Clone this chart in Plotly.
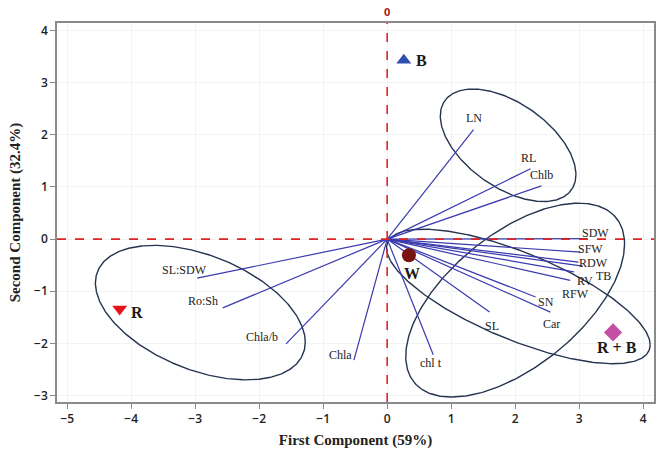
import numpy as np
import plotly.graph_objects as go

# --- PCA biplot data -------------------------------------------------------
# Variable loadings (end points of the vectors drawn from the origin)
var_names = ["LN", "RL", "Chlb", "SDW", "SFW", "RDW", "TB", "RV", "RFW",
             "SN", "Car", "SL", "chl t", "SL:SDW", "Ro:Sh", "Chla/b", "Chla"]
var_pc1 = [1.35, 2.24, 2.41, 3.12, 3.02, 2.99, 3.06, 2.92, 2.86,
           2.32, 2.55, 1.60, 0.72, -2.97, -2.57, -1.58, -0.52]
var_pc2 = [2.10, 1.35, 1.02, 0.01, -0.25, -0.44, -0.52, -0.63, -0.79,
           -1.11, -1.40, -1.40, -2.22, -0.75, -1.32, -2.01, -2.32]

# Treatment scores
trt_names = ["B", "W", "R", "R + B"]
trt_pc1 = [0.26, 0.34, -4.18, 3.53]
trt_pc2 = [3.43, -0.31, -1.34, -1.79]

# Group ellipses: centre, spread along each axis and correlation
ell_cx = [1.89, -2.92, 2.00, 2.05]
ell_cy = [1.80, -1.41, -1.17, -1.10]
ell_sx = [1.06, 1.64, 1.71, 2.06]
ell_sy = [1.08, 1.29, 1.86, 1.29]
ell_rho = [-0.52, -0.44, 0.58, -0.72]

x_ticks = [-5, -4, -3, -2, -1, 0, 1, 2, 3, 4]
y_ticks = [-3, -2, -1, 0, 1, 2, 3, 4]

# --- styling ---------------------------------------------------------------
# pixel offsets of each variable label relative to its vector tip
label_shift = {
    "LN": (0, 12), "RL": (-2, 11), "Chlb": (0, 11), "SDW": (9, 6),
    "SFW": (10, 3), "RDW": (15, -1), "TB": (21, -10), "RV": (11, -9),
    "RFW": (5, -14), "SN": (10, -5), "Car": (1, -12), "SL": (2, -14),
    "chl t": (-2, -8), "SL:SDW": (-13, 8), "Ro:Sh": (-20, 7),
    "Chla/b": (-24, 7), "Chla": (-13, 5),
}
trt_style = {
    "B": dict(symbol="triangle-up", color="#2f4fb0", size=13),
    "W": dict(symbol="circle", color="#7a1212", size=14),
    "R": dict(symbol="triangle-down", color="#e5141b", size=13),
    "R + B": dict(symbol="diamond", color="#c64fa6", size=14),
}
trt_label_shift = {"B": (18, 0), "W": (3, -18), "R": (17, -4), "R + B": (4, -15)}

SERIF = "Liberation Serif, Times New Roman, serif"
SANS = "Open Sans, Liberation Sans, sans-serif"

fig = go.Figure()

# reference lines through the origin
fig.add_shape(type="line", xref="x", yref="paper", x0=0, x1=0, y0=0, y1=1,
              line=dict(color="#e02424", width=1.6, dash="dash"))
fig.add_shape(type="line", xref="paper", yref="y", x0=0, x1=1, y0=0, y1=0,
              line=dict(color="#e02424", width=1.6, dash="dash"))

# ellipses
t = np.linspace(0, 2 * np.pi, 361)
for cx, cy, sx, sy, rho in zip(ell_cx, ell_cy, ell_sx, ell_sy, ell_rho):
    d = np.arccos(rho)
    fig.add_trace(go.Scatter(
        x=cx + sx * np.cos(t), y=cy + sy * np.cos(t + d),
        mode="lines", line=dict(color="#25344f", width=1.4),
        hoverinfo="skip", showlegend=False))

# loading vectors
vx, vy = [], []
for px, py in zip(var_pc1, var_pc2):
    vx += [0, px, None]
    vy += [0, py, None]
fig.add_trace(go.Scatter(x=vx, y=vy, mode="lines",
                         line=dict(color="#3a3ab0", width=1.2),
                         hoverinfo="skip", showlegend=False))

for name, px, py in zip(var_names, var_pc1, var_pc2):
    dx, dy = label_shift[name]
    fig.add_annotation(x=px, y=py, text=name, showarrow=False,
                       xshift=dx, yshift=dy,
                       font=dict(family=SERIF, size=12, color="#222222"))

# treatment scores
for name, px, py in zip(trt_names, trt_pc1, trt_pc2):
    st = trt_style[name]
    fig.add_trace(go.Scatter(
        x=[px], y=[py], mode="markers",
        marker=dict(symbol=st["symbol"], color=st["color"], size=st["size"],
                    line=dict(width=0)),
        showlegend=False, hoverinfo="skip"))
    dx, dy = trt_label_shift[name]
    fig.add_annotation(x=px, y=py, text="<b>%s</b>" % name, showarrow=False,
                       xshift=dx, yshift=dy,
                       font=dict(family=SERIF, size=16, color="#1a1a1a"))

# top marker for the vertical reference line
fig.add_annotation(x=0, y=1, xref="x", yref="paper", text="<b>0</b>",
                   showarrow=False, yanchor="bottom", yshift=2,
                   font=dict(family=SANS, size=11, color="#a82020"))

axis_common = dict(
    showline=True, linecolor="#8a8a8a", linewidth=1.5, mirror=True,
    ticks="outside", ticklen=5, tickcolor="#8a8a8a", tickwidth=1,
    showgrid=True, gridcolor="#f1f3f3", gridwidth=1, zeroline=False,
    tickfont=dict(family=SANS, size=12, color="#1e1e1e", weight=600),
)

fig.update_layout(
    width=661, height=453,
    margin=dict(l=57, r=5, t=23, b=51),
    paper_bgcolor="white", plot_bgcolor="white",
    xaxis=dict(range=[-5.16, 4.17], tickvals=x_ticks,
               title=dict(text="<b>First Component (59%)</b>", standoff=8,
                          font=dict(family=SERIF, size=15, color="#222222")),
               **axis_common),
    yaxis=dict(range=[-3.125, 4.146], tickvals=y_ticks,
               title=dict(text="<b>Second Component (32.4%)</b>", standoff=10,
                          font=dict(family=SERIF, size=15, color="#222222")),
               **axis_common),
)

fig.write_html("out.html")
